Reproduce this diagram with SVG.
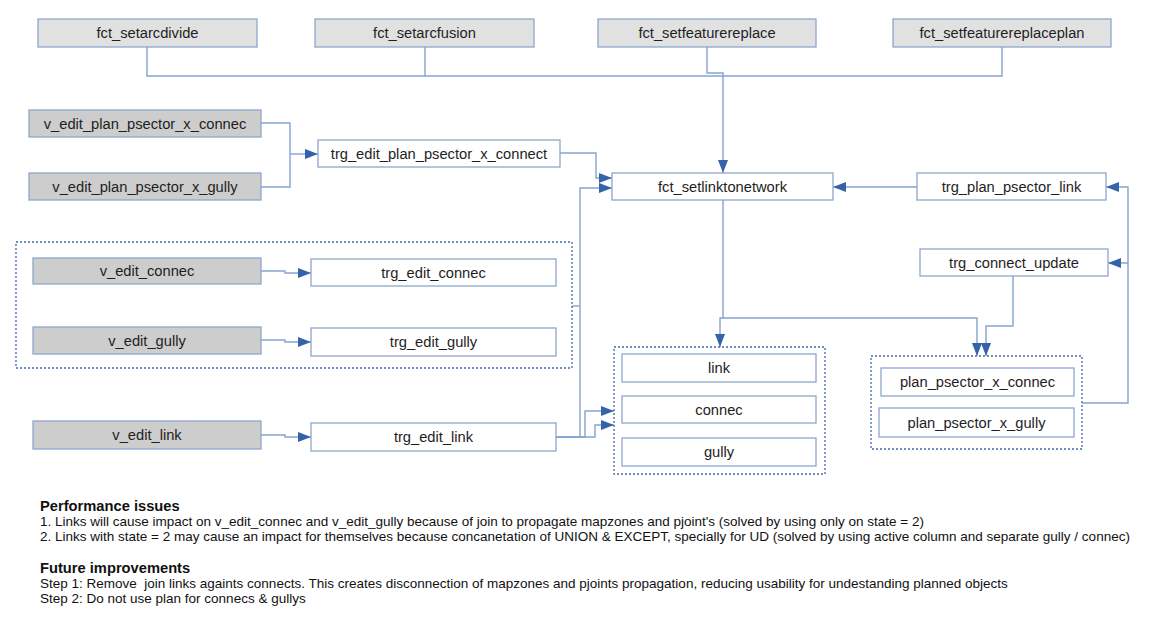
<svg xmlns="http://www.w3.org/2000/svg" width="1150" height="628" viewBox="0 0 1150 628">
<style>
.box{stroke:#8da6cc;stroke-width:1.3}
.w{fill:#ffffff}
.g1{fill:#e1e1e1}
.g2{fill:#cdcdcd}
.t{font-family:"Liberation Sans",Arial,sans-serif;font-size:14.7px;fill:#1e1e1e;text-anchor:middle;dominant-baseline:central}
.grp{fill:none;stroke:#3d6aad;stroke-width:1.3;stroke-dasharray:2 2}
.c{fill:none;stroke:#86a2cf;stroke-width:1.4}
.note{font-family:"Liberation Sans",Arial,sans-serif;font-size:13.5px;fill:#111}
.hd{font-weight:bold;font-size:14.7px}
</style>
<defs>
<marker id="ah" markerWidth="14" markerHeight="10" refX="13" refY="5" orient="auto" markerUnits="userSpaceOnUse">
<path d="M0,0 L13,5 L0,10 Z" fill="#3563a9"/>
</marker>
</defs>
<rect width="1150" height="628" fill="#ffffff"/>

<g id="connectors">
<path class="c" d="M147,47 V76 H1002 V47"/>
<path class="c" d="M425,47 V76"/>
<path class="c" d="M707,47 V73 H723 V173" marker-end="url(#ah)"/>
<path class="c" d="M261,123 H290 V187 H261"/>
<path class="c" d="M290,154 H318" marker-end="url(#ah)"/>
<path class="c" d="M560,153 H596 V178 H612" marker-end="url(#ah)"/>
<path class="c" d="M555,437 H580 V188 H612" marker-end="url(#ah)"/>
<path class="c" d="M572,306 H580"/>
<path class="c" d="M555,437 H585 V411 H614" marker-end="url(#ah)"/>
<path class="c" d="M555,437 H595 V425 H614" marker-end="url(#ah)"/>
<path class="c" d="M917,187 H833" marker-end="url(#ah)"/>
<path class="c" d="M1082,403 H1128 V263 H1108" marker-end="url(#ah)"/>
<path class="c" d="M1128,263 V187 H1106" marker-end="url(#ah)"/>
<path class="c" d="M723,200 V318 H720 V347" marker-end="url(#ah)"/>
<path class="c" d="M723,318 H977 V356" marker-end="url(#ah)"/>
<path class="c" d="M1013,276 V326 H986 V356" marker-end="url(#ah)"/>
<path class="c" d="M261,271 H285 V273 H311" marker-end="url(#ah)"/>
<path class="c" d="M261,340 H285 V342 H311" marker-end="url(#ah)"/>
<path class="c" d="M261,435 H285 V437 H311" marker-end="url(#ah)"/>
</g>

<g id="group_edit">
<rect class="grp" x="16" y="242" width="556" height="126"/>
</g>
<g id="group_tables">
<rect class="grp" x="614" y="347" width="211" height="127"/>
</g>
<g id="group_plan">
<rect class="grp" x="871" y="356" width="211" height="93"/>
</g>

<g id="fct_setarcdivide"><rect class="box g1" x="38" y="19" width="219" height="28"/><text class="t" x="147.5" y="33">fct_setarcdivide</text></g>
<g id="fct_setarcfusion"><rect class="box g1" x="315" y="19" width="219" height="28"/><text class="t" x="424.5" y="33">fct_setarcfusion</text></g>
<g id="fct_setfeaturereplace"><rect class="box g1" x="598" y="19" width="218" height="28"/><text class="t" x="707" y="33">fct_setfeaturereplace</text></g>
<g id="fct_setfeaturereplaceplan"><rect class="box g1" x="893" y="19" width="218" height="28"/><text class="t" x="1002" y="33">fct_setfeaturereplaceplan</text></g>

<g id="v_edit_plan_psector_x_connec"><rect class="box g2" x="29" y="110" width="232" height="27"/><text class="t" x="145" y="123.5">v_edit_plan_psector_x_connec</text></g>
<g id="v_edit_plan_psector_x_gully"><rect class="box g2" x="29" y="173" width="232" height="27"/><text class="t" x="145" y="186.5">v_edit_plan_psector_x_gully</text></g>
<g id="trg_edit_plan_psector_x_connect"><rect class="box w" x="318" y="140" width="242" height="27"/><text class="t" x="439" y="153.5">trg_edit_plan_psector_x_connect</text></g>

<g id="fct_setlinktonetwork"><rect class="box w" x="612" y="173" width="221" height="27"/><text class="t" x="722.5" y="186.5">fct_setlinktonetwork</text></g>
<g id="trg_plan_psector_link"><rect class="box w" x="917" y="173" width="189" height="27"/><text class="t" x="1011.5" y="186.5">trg_plan_psector_link</text></g>
<g id="trg_connect_update"><rect class="box w" x="920" y="249" width="188" height="27"/><text class="t" x="1014" y="262.5">trg_connect_update</text></g>

<g id="v_edit_connec"><rect class="box g2" x="33" y="258" width="228" height="26"/><text class="t" x="147" y="271">v_edit_connec</text></g>
<g id="trg_edit_connec"><rect class="box w" x="311" y="259" width="245" height="27"/><text class="t" x="433.5" y="272.5">trg_edit_connec</text></g>
<g id="v_edit_gully"><rect class="box g2" x="33" y="327" width="228" height="27"/><text class="t" x="147" y="340.5">v_edit_gully</text></g>
<g id="trg_edit_gully"><rect class="box w" x="311" y="328" width="245" height="28"/><text class="t" x="433.5" y="342">trg_edit_gully</text></g>
<g id="v_edit_link"><rect class="box g2" x="33" y="421" width="228" height="28"/><text class="t" x="147" y="435">v_edit_link</text></g>
<g id="trg_edit_link"><rect class="box w" x="311" y="423" width="245" height="28"/><text class="t" x="433.5" y="437">trg_edit_link</text></g>

<g id="link"><rect class="box w" x="622" y="354" width="194" height="28"/><text class="t" x="719" y="368">link</text></g>
<g id="connec"><rect class="box w" x="622" y="396" width="194" height="27"/><text class="t" x="719" y="409.5">connec</text></g>
<g id="gully"><rect class="box w" x="622" y="438" width="194" height="28"/><text class="t" x="719" y="452">gully</text></g>

<g id="plan_psector_x_connec"><rect class="box w" x="881" y="368" width="193" height="28"/><text class="t" x="977.5" y="382">plan_psector_x_connec</text></g>
<g id="plan_psector_x_gully"><rect class="box w" x="879" y="408" width="195" height="29"/><text class="t" x="976.5" y="422.5">plan_psector_x_gully</text></g>

<g id="notes">
<text class="note hd" x="40" y="511">Performance issues</text>
<text class="note" x="40" y="526">1. Links will cause impact on v_edit_connec and v_edit_gully because of join to propagate mapzones and pjoint's (solved by using only on state = 2)</text>
<text class="note" x="40" y="541">2. Links with state = 2 may cause an impact for themselves because concanetation of UNION &amp; EXCEPT, specially for UD (solved by using active column and separate gully / connec)</text>
<text class="note hd" x="40" y="573">Future improvements</text>
<text class="note" x="40" y="588" xml:space="preserve">Step 1: Remove  join links againts connects. This creates disconnection of mapzones and pjoints propagation, reducing usability for undestanding planned objects</text>
<text class="note" x="40" y="603">Step 2: Do not use plan for connecs &amp; gullys</text>
</g>
</svg>
